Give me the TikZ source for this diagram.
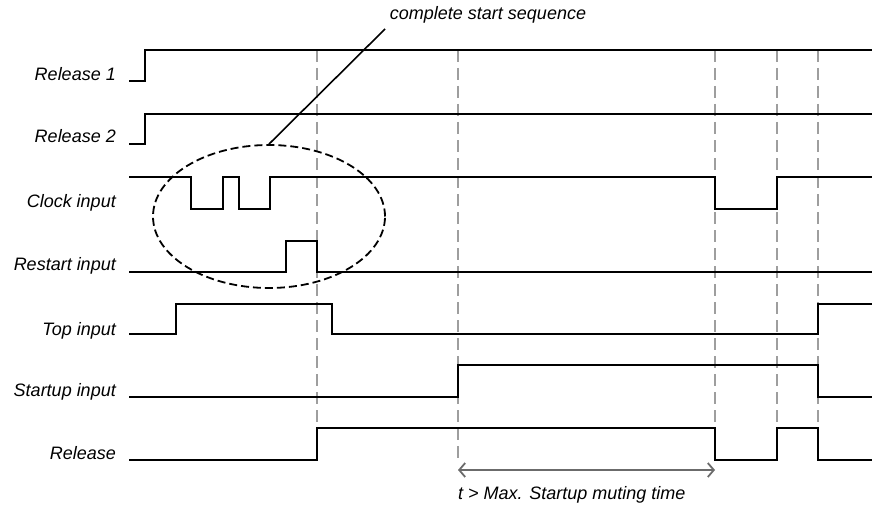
\documentclass[tikz,border=0pt]{standalone}
\usepackage{fontspec}
\setmainfont{Liberation Sans}
\usetikzlibrary{arrows.meta,shapes.geometric}

\begin{document}
\begin{tikzpicture}[x=1pt, y=-1pt, line join=miter,
	every node/.style={inner sep=0pt, font=\fontsize{18}{20}\selectfont\itshape},
	signal/.style={line width=2.6pt},
	marker/.style={black!38, line width=1.8pt, dash pattern=on 12pt off 6pt}]

	\useasboundingbox (0,0) rectangle (872,508);

	\def\xs{129}
	\def\xe{872}

	% ============ SIGNAL NAMES ============

	\foreach \n/\t/\y in {rela/Release 1/74, relb/Release 2/136, clk/Clock input/203,
		rst/Restart input/266, top/Top input/331, stp/Startup input/392, rel/Release/453} {
		\node[anchor=east] (L_\n) at (116, \y) {\t};
	}

	% ============ TIME MARKERS (dashed gray) ============

	\foreach \x in {317, 458, 715, 777, 818} {
		\draw[marker] (\x, 50) -- (\x, 460);
	}

	% ============ WAVEFORMS ============

	% Release 1
	\draw[signal] (\xs,81) -- (145,81) -- (145,50) -- (\xe,50);
	% Release 2
	\draw[signal] (\xs,144) -- (145,144) -- (145,114) -- (\xe,114);
	% Clock input
	\draw[signal] (\xs,177) -- (191,177) -- (191,209) -- (223,209) -- (223,177)
		-- (239,177) -- (239,209) -- (270,209) -- (270,177) -- (715,177)
		-- (715,209) -- (777,209) -- (777,177) -- (\xe,177);
	% Restart input
	\draw[signal] (\xs,272) -- (286,272) -- (286,241) -- (317,241) -- (317,272) -- (\xe,272);
	% Top input
	\draw[signal] (\xs,334) -- (176,334) -- (176,304) -- (332,304) -- (332,334)
		-- (818,334) -- (818,304) -- (\xe,304);
	% Startup input
	\draw[signal] (\xs,397) -- (458,397) -- (458,365) -- (818,365) -- (818,397) -- (\xe,397);
	% Release
	\draw[signal] (\xs,460) -- (317,460) -- (317,428) -- (715,428) -- (715,460)
		-- (777,460) -- (777,428) -- (818,428) -- (818,460) -- (\xe,460);

	% ============ START SEQUENCE ============

	\node[draw, ellipse, line width=1.8pt, dash pattern=on 8pt off 4pt,
		minimum width=232pt, minimum height=143pt] (seq) at (269,216.5) {};
	\node (seqlabel) at (488,15) {complete start sequence};
	\coordinate (lead) at (385,29);
	\draw[line width=1.6pt] (lead) -- (seq.north);

	% ============ MUTING TIME ============

	\coordinate (t0) at (458,470);
	\coordinate (t1) at (715,470);
	\draw[black!58, line width=1.8pt, {Straight Barb[length=6pt, width=14pt]}-{Straight Barb[length=6pt, width=14pt]}] (t0) -- (t1);
	\node[anchor=west] (mutelabel) at (458,495) {t > Max. Startup muting time};

\end{tikzpicture}
\end{document}
